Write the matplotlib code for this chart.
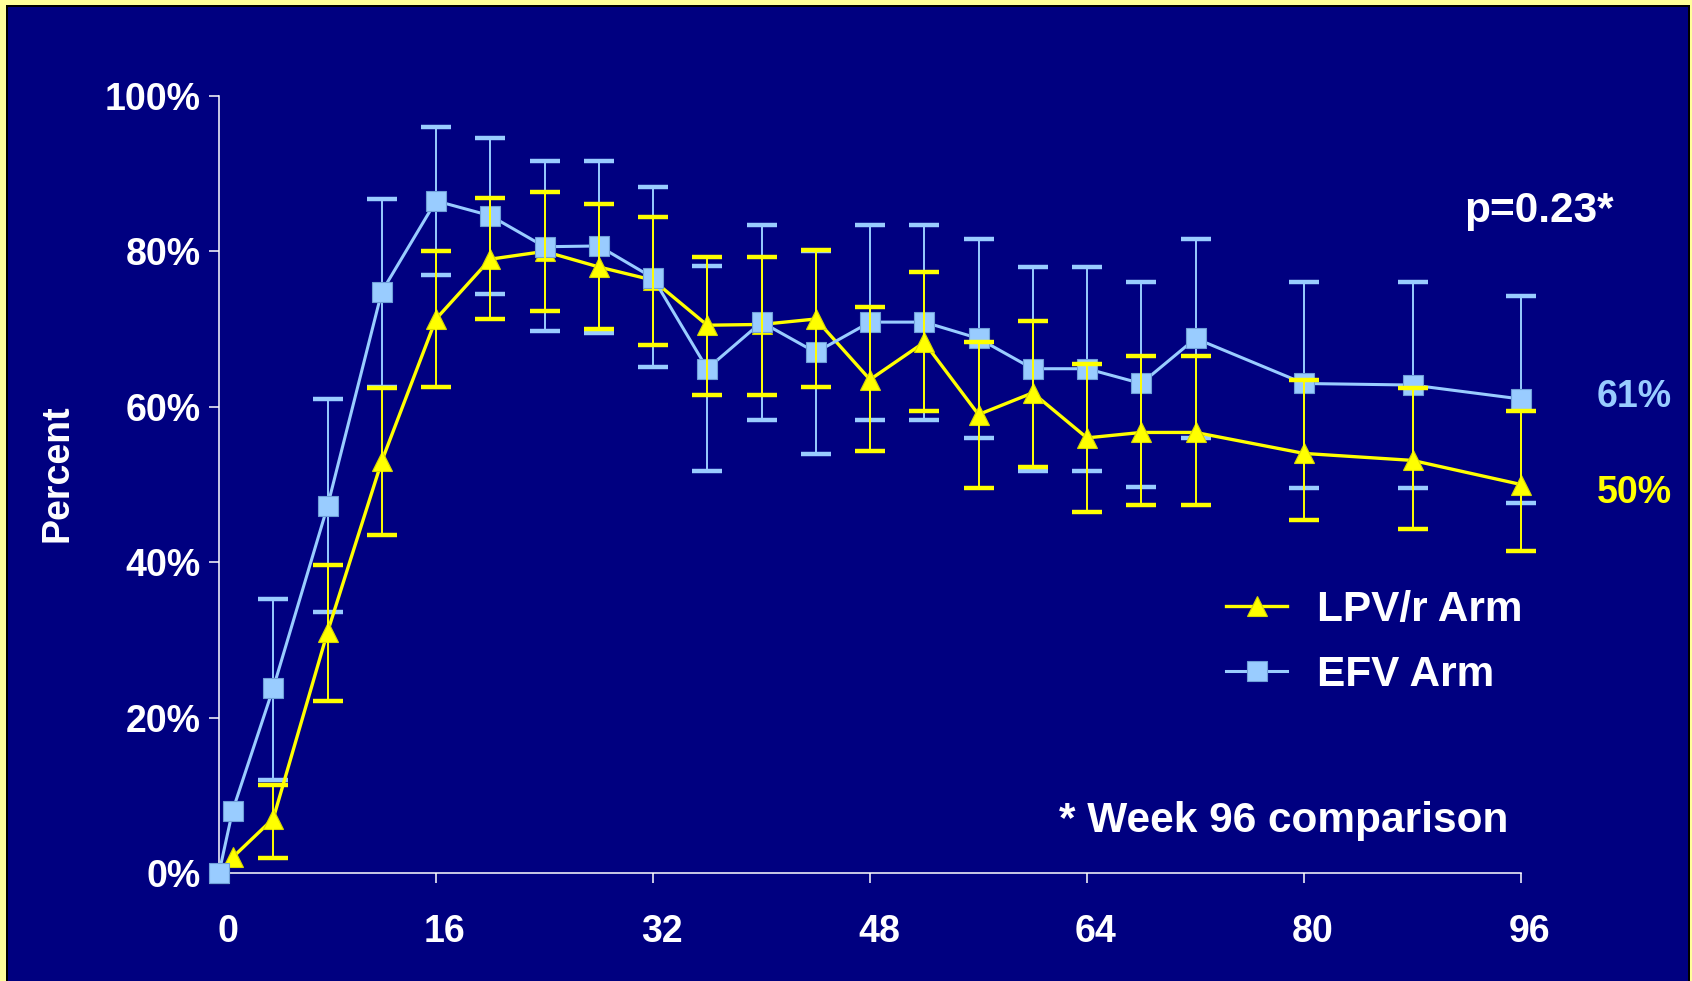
import numpy as np
import matplotlib
matplotlib.use('Agg')
import matplotlib.pyplot as plt
from matplotlib.patches import Rectangle
from matplotlib.transforms import ScaledTranslation

nan = np.nan

# weeks on study
weeks = [0, 1, 4, 8, 12, 16, 20, 24, 28, 32, 36, 40, 44, 48, 52, 56, 60, 64, 68, 72, 80, 88, 96]

# LPV/r arm: percent and 95% CI bounds
lpv = [0, 2, 7, 31, 53, 71.3, 79, 80, 78, 76.3, 70.5, 70.6, 71.3, 63.5, 68.3, 59, 61.8, 56, 56.7, 56.7, 54, 53.1, 50]
lpv_lo = [nan, nan, 1.9, 22.1, 43.5, 62.6, 71.3, 72.3, 70, 67.9, 61.5, 61.5, 62.6, 54.3, 59.5, 49.5, 52.3, 46.4, 47.4, 47.4, 45.4, 44.3, 41.4]
lpv_hi = [nan, nan, 11.3, 39.7, 62.4, 80.1, 86.9, 87.7, 86.1, 84.4, 79.3, 79.3, 80.2, 72.9, 77.4, 68.3, 71.1, 65.5, 66.5, 66.5, 63.5, 62.4, 59.5]

# EFV arm
efv = [0, 8, 23.8, 47.2, 74.8, 86.5, 84.6, 80.6, 80.7, 76.6, 64.9, 70.9, 67.0, 70.9, 70.9, 68.8, 64.9, 64.9, 63.0, 68.8, 63.0, 62.8, 61]
efv_lo = [nan, nan, 12.0, 33.6, 62.6, 77.0, 74.5, 69.7, 69.5, 65.1, 51.7, 58.3, 53.9, 58.3, 58.3, 56.0, 51.8, 51.8, 49.7, 56.0, 49.6, 49.6, 47.6]
efv_hi = [nan, nan, 35.3, 61.0, 86.7, 96.0, 94.6, 91.6, 91.6, 88.3, 78.1, 83.4, 80.0, 83.4, 83.4, 81.6, 78.0, 78.0, 76.1, 81.6, 76.1, 76.1, 74.2]

xticks = [0, 16, 32, 48, 64, 80, 96]
yticks = [0, 20, 40, 60, 80, 100]

NAVY = '#000080'
YELLOW = '#FFFF00'
LBLUE = '#99CCFF'
W, H = 1692, 981

plt.rcParams['font.family'] = ['Liberation Sans', 'DejaVu Sans']
plt.rcParams['font.weight'] = 'bold'

fig = plt.figure(figsize=(W / 100, H / 100), dpi=100)
fig.patch.set_facecolor('#FFFF99')
# slide frame: black rule inside the yellow border, navy inside that
fig.add_artist(Rectangle((6 / W, 0), (1690 - 6) / W, (H - 5) / H, transform=fig.transFigure,
                         facecolor='black', edgecolor='none', zorder=-2))
fig.add_artist(Rectangle((8 / W, 0), (1688 - 8) / W, (H - 7) / H, transform=fig.transFigure,
                         facecolor=NAVY, edgecolor='none', zorder=-1))

ax = fig.add_axes([219 / W, (H - 873) / H, (1521 - 219) / W, (873 - 96) / H])
ax.set_facecolor('none')
ax.set_xlim(0, 96)
ax.set_ylim(0, 100)

x = np.array(weeks, dtype=float)


def ci(vals, lo, hi):
    v, l, h = np.array(vals), np.array(lo), np.array(hi)
    m = ~np.isnan(l)
    return x[m], v[m], np.vstack([v[m] - l[m], h[m] - v[m]])


ex, ev, eerr = ci(efv, efv_lo, efv_hi)
ax.errorbar(ex, ev, yerr=eerr, fmt='none', ecolor=LBLUE, elinewidth=1.4,
            capsize=11, capthick=3.2, zorder=2, clip_on=False)

lpv_line, = ax.plot(x, lpv, color=YELLOW, lw=2.4, marker='^', ms=14.5,
                    mfc=YELLOW, mec='#D8D800', mew=0.8, zorder=3, clip_on=False)
efv_line, = ax.plot(x, efv, color=LBLUE, lw=2.2, marker='s', ms=15,
                    mfc=LBLUE, mec='#6F9FD8', mew=0.8, zorder=4, clip_on=False)

lx, lv, lerr = ci(lpv, lpv_lo, lpv_hi)
ax.errorbar(lx, lv, yerr=lerr, fmt='none', ecolor=YELLOW, elinewidth=1.4,
            capsize=11, capthick=3.2, zorder=5, clip_on=False)

for s in ['top', 'right']:
    ax.spines[s].set_visible(False)
for s in ['left', 'bottom']:
    ax.spines[s].set_color('white')
    ax.spines[s].set_linewidth(1.1)

ax.set_xticks(xticks)
ax.set_xticklabels([str(t) for t in xticks])
ax.set_yticks(yticks)
ax.set_yticklabels([f'{t}%' for t in yticks])
ax.tick_params(axis='both', colors='white', width=1.1, length=7.2, labelsize=27)
ax.tick_params(axis='x', pad=22.5)
ax.tick_params(axis='y', pad=5.8)
for lbl in ax.get_xticklabels():
    lbl.set_transform(lbl.get_transform() + ScaledTranslation(0.09, 0, fig.dpi_scale_trans))
    lbl.set_fontweight('bold')
for lbl in ax.get_yticklabels():
    lbl.set_fontweight('bold')

fig.text(57 / W, 1 - 473 / H, 'Percent', rotation=90, ha='center', va='center',
         color='white', fontsize=27, fontweight='bold')

fig.text(1464 / W, 1 - 222 / H, 'p=0.23*', ha='left', va='baseline',
         color='white', fontsize=30.5, fontweight='bold')
fig.text(1597 / W, 1 - 407 / H, f'{efv[-1]:.0f}%', ha='left', va='baseline',
         color=LBLUE, fontsize=27, fontweight='bold')
fig.text(1597 / W, 1 - 503 / H, f'{lpv[-1]:.0f}%', ha='left', va='baseline',
         color=YELLOW, fontsize=27, fontweight='bold')
fig.text(1059 / W, 1 - 832 / H, '* Week 96 comparison', ha='left', va='baseline',
         color='white', fontsize=30.5, fontweight='bold')

ax.legend([lpv_line, efv_line], ['LPV/r Arm', 'EFV Arm'], loc='upper left',
          bbox_to_anchor=(1226 / W, 1 - 590 / H), bbox_transform=fig.transFigure,
          frameon=False, numpoints=1, handlelength=1.45, handletextpad=0.7,
          labelspacing=0.58, borderpad=0, borderaxespad=0, labelcolor='white',
          prop={'size': 30.5, 'weight': 'bold'})

fig.savefig('out.png', dpi=100, facecolor=fig.get_facecolor())
